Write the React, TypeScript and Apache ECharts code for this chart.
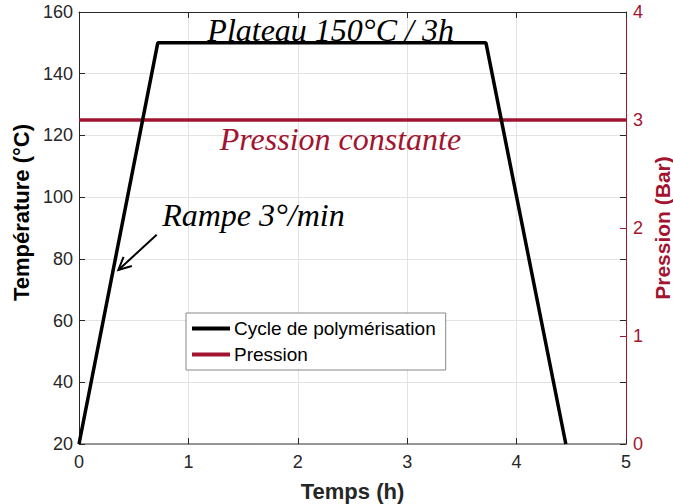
import React, { useEffect, useRef } from "react";
import * as echarts from "echarts";

const timeH = [0, 0.72, 3.72, 4.45];
const tempC = [20, 150, 150, 20];
const pressTime = [0, 5];
const pressBar = [3, 3];
const xTicks = { min: 0, max: 5, interval: 1 };
const tempTicks = { min: 20, max: 160, interval: 20 };
const pressTicks = { min: 0, max: 4, interval: 1 };
const seriesNames = ["Cycle de polymérisation", "Pression"];
// annotations in data coordinates (time h, temperature °C)
const plateauLabel = { text: "Plateau 150°C / 3h", at: [2.3, 154.2] };
const pressLabel = { text: "Pression constante", at: [2.39, 118.8] };
const rampLabel = { text: "Rampe 3°/min", at: [0.76, 94.2] };
const arrowFrom = [0.71, 87.8];
const arrowTo = [0.36, 76.4];

const RED = "#A2142F";
const DARK = "#262626";
const SANS = "'Liberation Sans', Arial, Helvetica, sans-serif";
const SERIF = "'Liberation Serif', 'Times New Roman', serif";

export default function App() {
  const ref = useRef<HTMLDivElement>(null);
  useEffect(() => {
    if (!ref.current) return;
    const chart = echarts.init(ref.current, null, { renderer: "svg" });
    const tick = (color: string) => ({ show: true, inside: true, length: 6, lineStyle: { color, width: 1 } });
    chart.setOption({
      animation: false,
      backgroundColor: "#fff",
      grid: { left: 79, right: 47, top: 12, bottom: 60, containLabel: false, outerBoundsMode: "none" },
      xAxis: [
        {
          type: "value", ...xTicks, position: "bottom",
          name: "Temps (h)", nameLocation: "middle", nameGap: 36,
          nameTextStyle: { fontFamily: SANS, fontWeight: "bold", fontSize: 22, color: DARK },
          axisLine: { show: true, onZero: false, lineStyle: { color: "#777", width: 1.5 } },
          axisTick: tick(DARK),
          axisLabel: { fontFamily: SANS, fontSize: 18, color: DARK, margin: 9 },
          splitLine: { show: true, lineStyle: { color: "#e3e3e3", width: 1 } },
        },
        {
          type: "value", ...xTicks, position: "top",
          axisLine: { show: true, onZero: false, lineStyle: { color: DARK, width: 1 } },
          axisTick: tick(DARK),
          axisLabel: { show: false },
          splitLine: { show: false },
        },
      ],
      yAxis: [
        {
          type: "value", ...tempTicks, position: "left",
          name: "Température (°C)", nameLocation: "middle", nameGap: 46, nameRotate: 90,
          nameTextStyle: { fontFamily: SANS, fontWeight: "bold", fontSize: 22, color: "#000", padding: [0, 0, 0, 31] },
          axisLine: { show: true, onZero: false, lineStyle: { color: DARK, width: 1 } },
          axisTick: tick(DARK),
          axisLabel: { fontFamily: SANS, fontSize: 18, color: DARK, margin: 6 },
          splitLine: { show: true, lineStyle: { color: "#e3e3e3", width: 1 } },
        },
        {
          type: "value", ...pressTicks, position: "right",
          name: "Pression (Bar)", nameLocation: "middle", nameGap: 26, nameRotate: 90,
          nameMoveOverlap: false,
          nameTextStyle: { fontFamily: SANS, fontWeight: "bold", fontSize: 21, color: RED },
          axisLine: { show: true, onZero: false, lineStyle: { color: RED, width: 1 } },
          axisTick: tick(RED),
          axisLabel: { fontFamily: SANS, fontSize: 18, color: RED, margin: 7 },
          splitLine: { show: false },
        },
        {
          type: "value", ...tempTicks, position: "right",
          axisLine: { show: false, onZero: false },
          axisTick: tick(DARK),
          axisLabel: { show: false },
          splitLine: { show: false },
        },
      ],
      legend: {
        left: 186, top: 313, orient: "vertical",
        data: seriesNames.map((n) => ({ name: n, icon: "rect" })),
        itemWidth: 38, itemHeight: 4, itemGap: 7,
        padding: [6, 10, 6, 6],
        borderColor: "#888", borderWidth: 1, backgroundColor: "#fff",
        textStyle: { fontFamily: SANS, fontSize: 19, color: "#000", padding: [0, 0, 0, -1] },
      },
      series: [
        {
          name: seriesNames[0], type: "line", xAxisIndex: 0, yAxisIndex: 0,
          data: timeH.map((t, i) => [t, tempC[i]]),
          symbol: "none", lineStyle: { color: "#000", width: 3.5 }, itemStyle: { color: "#000" },
          z: 3,
        },
        {
          name: seriesNames[1], type: "line", xAxisIndex: 0, yAxisIndex: 1,
          data: pressTime.map((t, i) => [t, pressBar[i]]),
          symbol: "none", lineStyle: { color: RED, width: 3.5 }, itemStyle: { color: RED },
          z: 2,
        },
      ],
    });
    const px = (p: number[]) => chart.convertToPixel({ xAxisIndex: 0, yAxisIndex: 0 }, p) as number[];
    const a = px(arrowFrom);
    const b = px(arrowTo);
    const ang = Math.atan2(b[1] - a[1], b[0] - a[0]);
    const hl = 14, ha = 0.45;
    const h1 = [b[0] - hl * Math.cos(ang - ha), b[1] - hl * Math.sin(ang - ha)];
    const h2 = [b[0] - hl * Math.cos(ang + ha), b[1] - hl * Math.sin(ang + ha)];
    const txt = (lab: { text: string; at: number[] }, color: string, align: string) => {
      const p = px(lab.at);
      return {
        type: "text", x: p[0], y: p[1], z: 10,
        style: { text: lab.text, fill: color, font: `italic 32px ${SERIF}`, align, verticalAlign: "middle" },
      };
    };
    chart.setOption({
      graphic: [
        txt(plateauLabel, "#000", "center"),
        txt(pressLabel, RED, "center"),
        txt(rampLabel, "#000", "left"),
        { type: "line", z: 10, shape: { x1: a[0], y1: a[1], x2: b[0], y2: b[1] }, style: { stroke: "#000", lineWidth: 2 } },
        { type: "polyline", z: 10, shape: { points: [h1, b, h2] }, style: { stroke: "#000", lineWidth: 2, fill: null } },
      ],
    });
    return () => chart.dispose();
  }, []);
  return <div ref={ref} style={{ width: 673, height: 504, position: "absolute", left: 0, top: 0 }} />;
}
